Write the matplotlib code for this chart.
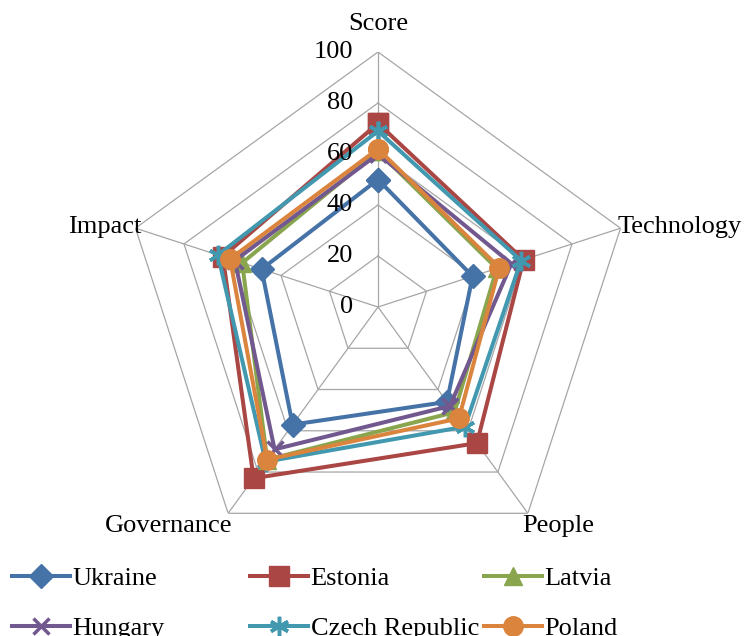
import numpy as np
import matplotlib
matplotlib.use("Agg")
import matplotlib.pyplot as plt

plt.rcParams['font.family'] = ['Liberation Serif', 'DejaVu Serif']

categories = ['Score', 'Technology', 'People', 'Governance', 'Impact']
ukraine = [50, 39, 46, 57, 48]
estonia = [72, 60, 66, 83, 64]
latvia = [61, 49, 51, 74, 56]
hungary = [60, 55, 48, 69, 59]
czech = [69, 59, 58, 75, 66]
poland = [62, 50, 54, 74, 61]
ticks = [0, 20, 40, 60, 80, 100]

series = [
    ('Ukraine', ukraine, '#4572A7', 'D', 12),
    ('Estonia', estonia, '#AA4643', 's', 15),
    ('Latvia', latvia, '#89A54E', '^', 13),
    ('Hungary', hungary, '#71588F', 'x', 12),
    ('Czech Republic', czech, '#4198AF', (6, 2, 0), 14),
    ('Poland', poland, '#DB843D', 'o', 14),
]

n = len(categories)
angles = np.linspace(0, 2 * np.pi, n, endpoint=False)
closed = np.append(angles, angles[0])

fig = plt.figure(figsize=(7.44, 6.36), dpi=100)
cx, cy = 378 / 744, (636 - 307) / 636
rw, rh = 255 / 744, 255 / 636
ax = fig.add_axes([cx - rw, cy - rh, 2 * rw, 2 * rh], projection='polar')
ax.set_theta_zero_location('N')
ax.set_theta_direction(-1)
ax.set_ylim(0, 100)
ax.grid(False)
ax.set_xticks([])
ax.set_yticks([])
ax.spines['polar'].set_visible(False)
ax.patch.set_visible(False)

grid_col = '#a6a6a6'
for t in ticks[1:]:
    ax.plot(closed, [t] * (n + 1), color=grid_col, lw=0.9, zorder=1)
for a in angles:
    ax.plot([a, a], [0, 100], color=grid_col, lw=0.9, zorder=1)

handles = {}
for name, vals, col, mk, ms in series:
    v = vals + vals[:1]
    ln, = ax.plot(closed, v, color=col, lw=2.9, marker=mk, ms=ms,
                  mfc=col, mec=col, mew=2.5 if mk in ('x', (6, 2, 0)) else 1,
                  label=name, zorder=3, clip_on=False)
    handles[name] = ln

# radial tick labels along the Score axis
for t in ticks:
    ax.annotate(str(t), xy=(0, t), xytext=(-18, 0), textcoords='offset points',
                ha='right', va='center', fontsize=19)

# category labels
offsets = [((0, 12), 'center', 'bottom'),
           ((-2, 1), 'left', 'center'),
           ((-4, -1), 'left', 'top'),
           ((3, -1), 'right', 'top'),
           ((4, 1), 'right', 'center')]
for a, lab, (off, ha, va) in zip(angles, categories, offsets):
    ax.annotate(lab, xy=(a, 100), xytext=off, textcoords='offset points',
                ha=ha, va=va, fontsize=19, annotation_clip=False)

# legend in three columns
cols = [('Ukraine', 'Hungary', 12), ('Estonia', 'Czech Republic', 250),
        ('Latvia', 'Poland', 484)]
for a, b, x in cols:
    leg = fig.legend([handles[a], handles[b]], [a, b], loc='upper left',
                     bbox_to_anchor=(x / 744, 1 - 567 / 636), frameon=False,
                     fontsize=19, handlelength=2.2, handletextpad=0.1,
                     borderpad=0, borderaxespad=0, labelspacing=0.98,
                     numpoints=1)

fig.savefig('out.png', dpi=100)
